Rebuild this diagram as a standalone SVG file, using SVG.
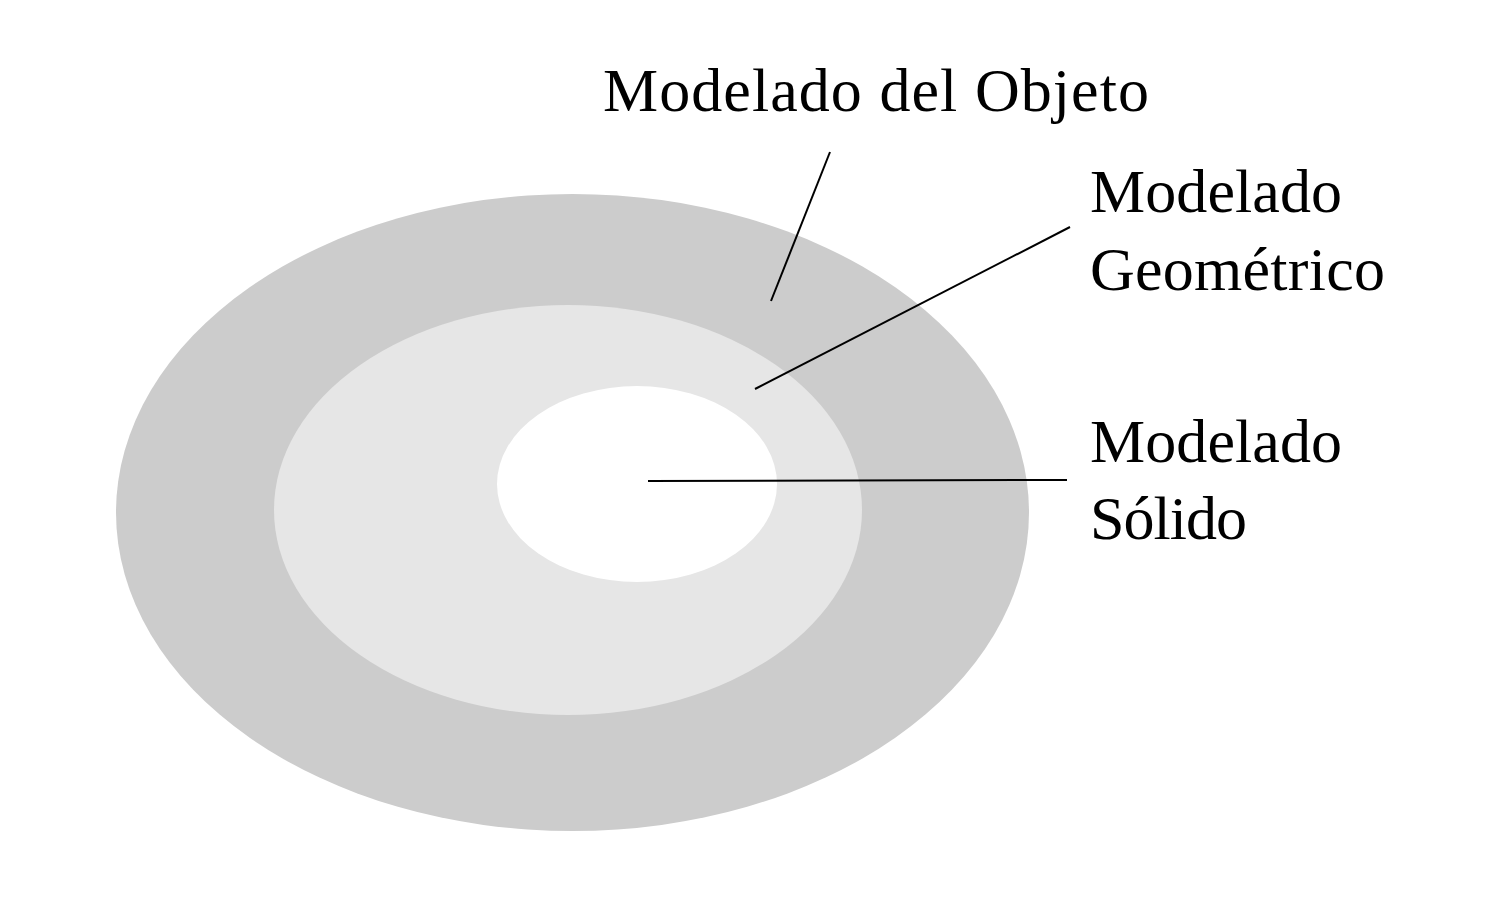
<svg xmlns="http://www.w3.org/2000/svg" width="1500" height="900" viewBox="0 0 1500 900">
<style>
text{font-family:"Liberation Serif","DejaVu Serif",serif;font-size:62px;fill:#000}
.ln{stroke:#000;stroke-width:2;fill:none}
</style>
<rect width="1500" height="900" fill="#fff"/>
<g id="objeto"><ellipse cx="572.5" cy="512.5" rx="456.5" ry="318.5" fill="#cccccc"/></g>
<g id="geometrico"><ellipse cx="568" cy="510" rx="294" ry="205" fill="#e6e6e6"/></g>
<g id="solido"><ellipse cx="637" cy="484" rx="140" ry="98" fill="#ffffff"/></g>
<g id="connectors">
<line class="ln" x1="830" y1="152" x2="771" y2="301"/>
<line class="ln" x1="1070" y1="227" x2="755" y2="389"/>
<line class="ln" x1="648" y1="481" x2="1067" y2="480"/>
</g>
<g id="labels">
<text x="603" y="111" textLength="546" lengthAdjust="spacing">Modelado del Objeto</text>
<text x="1090" y="212" textLength="252" lengthAdjust="spacing">Modelado</text>
<text x="1090" y="290" textLength="295" lengthAdjust="spacing">Geométrico</text>
<text x="1090" y="462" textLength="252" lengthAdjust="spacing">Modelado</text>
<text x="1090" y="539" textLength="157" lengthAdjust="spacing">Sólido</text>
</g>
</svg>
